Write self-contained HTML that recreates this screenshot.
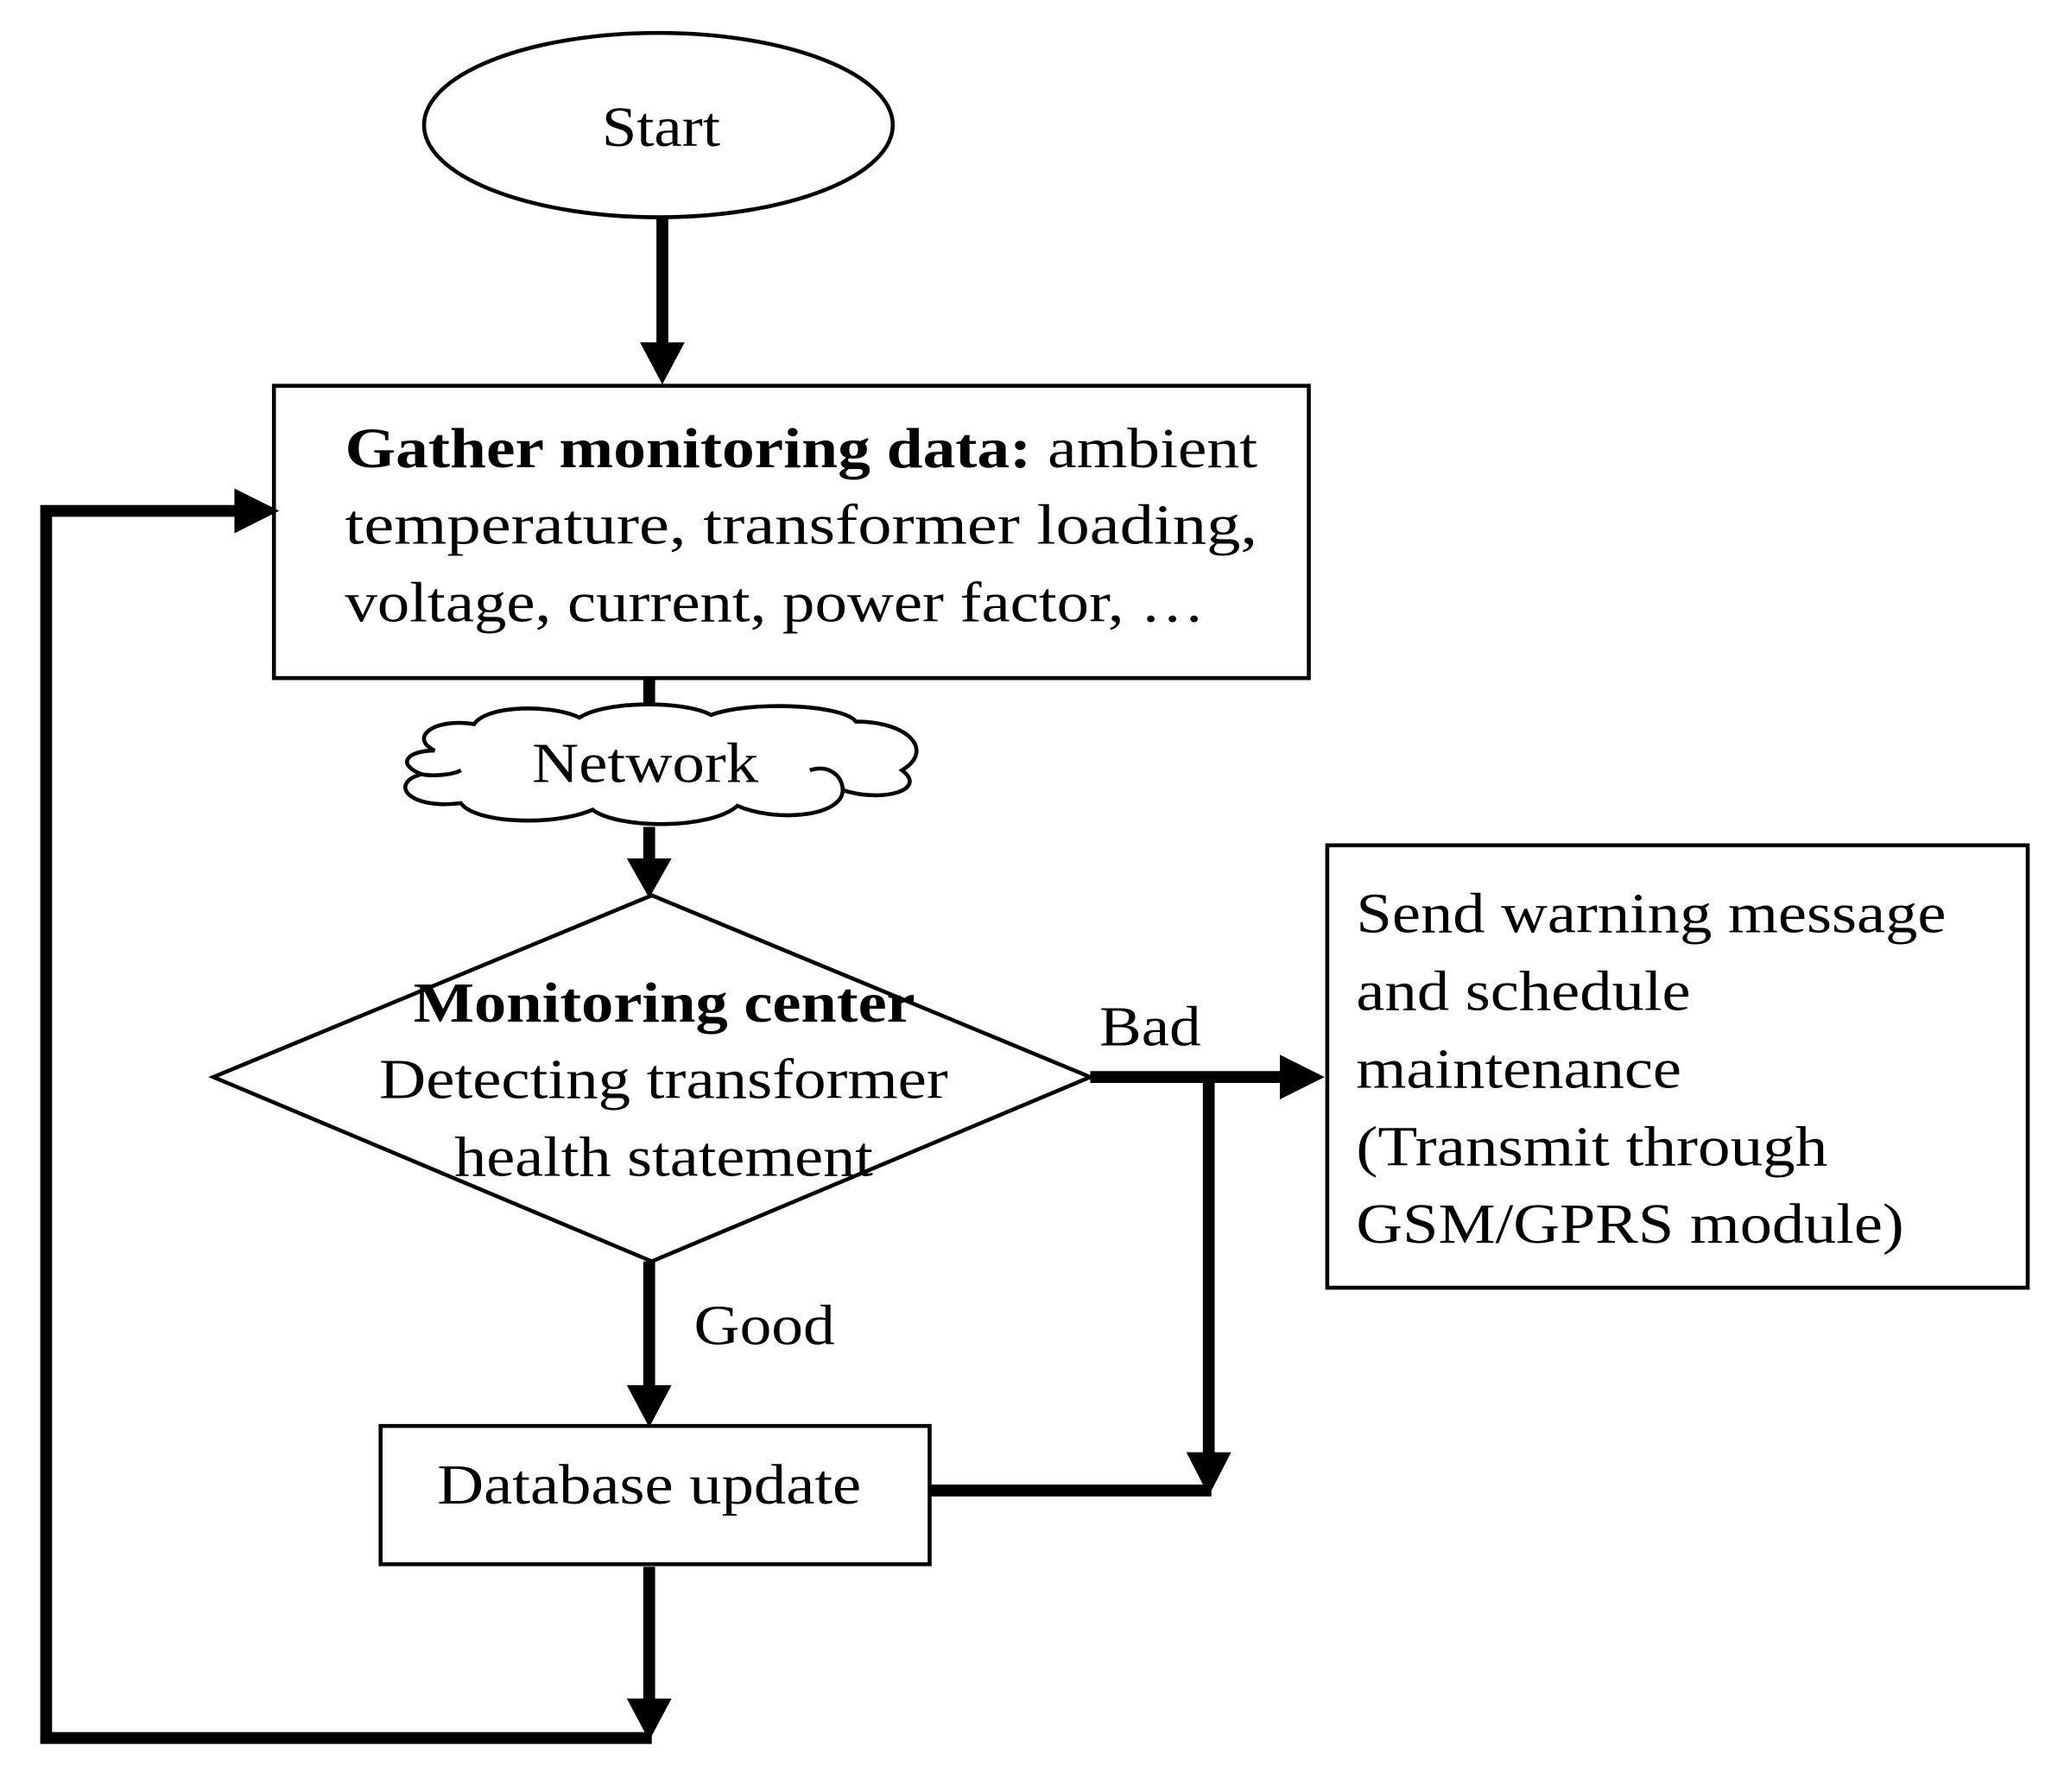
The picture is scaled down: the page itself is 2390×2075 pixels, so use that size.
<!DOCTYPE html>
<html><head><meta charset="utf-8"><style>html,body{margin:0;padding:0;background:#fff}svg{display:block}</style></head>
<body>
<svg width="2390" height="2075" viewBox="0 0 1567.5 1361" xmlns="http://www.w3.org/2000/svg" font-family="'Liberation Serif', serif" fill="#000">
<rect width="1570" height="1362" fill="#fff"/>
<g font-size="43" lengthAdjust="spacingAndGlyphs">
<!-- Start -->
<ellipse cx="500" cy="95" rx="178" ry="70" fill="#fff" stroke="#000" stroke-width="3"/>
<text x="457" y="111" textLength="90" lengthAdjust="spacingAndGlyphs">Start</text>
<line x1="503" y1="165" x2="503" y2="262" stroke="#000" stroke-width="9"/>
<polygon points="486,260 520,260 503,292"/>
<!-- Gather box -->
<rect x="208" y="293" width="786" height="222" fill="#fff" stroke="#000" stroke-width="3"/>
<text x="262" y="355" textLength="693" lengthAdjust="spacingAndGlyphs"><tspan font-weight="bold">Gather monitoring data:</tspan> ambient</text>
<text x="262" y="413" textLength="693" lengthAdjust="spacingAndGlyphs">temperature,  transformer  loading,</text>
<text x="262" y="472" textLength="653" lengthAdjust="spacingAndGlyphs">voltage, current, power factor, …</text>
<!-- line to cloud -->
<line x1="493" y1="515" x2="493" y2="548" stroke="#000" stroke-width="9"/>
<!-- Cloud -->
<path d="M330,570 C310,560 330,545 360,550 C370,535 420,535 440,545 C460,532 520,532 540,543 C570,532 640,535 650,548 C690,548 710,570 685,585 C705,600 670,610 640,600 C640,620 590,625 560,612 C540,630 470,630 450,615 C420,628 360,625 350,610 C310,615 295,595 320,588 C300,580 310,570 330,570 Z" fill="#fff" stroke="#000" stroke-width="3"/>
<path d="M615,585 C630,580 640,590 640,600" fill="none" stroke="#000" stroke-width="3"/>
<path d="M320,588 C330,590 345,588 350,585" fill="none" stroke="#000" stroke-width="3"/>
<text x="404" y="594" textLength="172" lengthAdjust="spacingAndGlyphs">Network</text>
<line x1="493" y1="628" x2="493" y2="655" stroke="#000" stroke-width="9"/>
<polygon points="476,652 510,652 493,682"/>
<!-- Diamond -->
<polygon points="495,680 828,818 495,958 162,818" fill="#fff" stroke="#000" stroke-width="3"/>
<text x="314" y="776" font-weight="bold" textLength="381" lengthAdjust="spacingAndGlyphs">Monitoring center</text>
<text x="288" y="834" textLength="432" lengthAdjust="spacingAndGlyphs">Detecting transformer</text>
<text x="345" y="893" textLength="318" lengthAdjust="spacingAndGlyphs">health statement</text>
<!-- Bad -->
<line x1="828" y1="818" x2="975" y2="818" stroke="#000" stroke-width="9"/>
<polygon points="972,801 1006,818 972,835"/>
<text x="835" y="794" textLength="77" lengthAdjust="spacingAndGlyphs">Bad</text>
<line x1="918" y1="818" x2="918" y2="1108" stroke="#000" stroke-width="9"/>
<polygon points="901,1103 935,1103 918,1136"/>
<line x1="705" y1="1132" x2="920" y2="1132" stroke="#000" stroke-width="9"/>
<!-- Right box -->
<rect x="1008" y="642" width="532" height="336" fill="#fff" stroke="#000" stroke-width="3"/>
<text x="1030" y="708" textLength="448" lengthAdjust="spacingAndGlyphs">Send warning message</text>
<text x="1030" y="767" textLength="254" lengthAdjust="spacingAndGlyphs">and schedule</text>
<text x="1030" y="826" textLength="247" lengthAdjust="spacingAndGlyphs">maintenance</text>
<text x="1030" y="885" textLength="358" lengthAdjust="spacingAndGlyphs">(Transmit through</text>
<text x="1030" y="944" textLength="416" lengthAdjust="spacingAndGlyphs">GSM/GPRS module)</text>
<!-- Good -->
<line x1="493" y1="958" x2="493" y2="1055" stroke="#000" stroke-width="9"/>
<polygon points="476,1052 510,1052 493,1084"/>
<text x="527" y="1021" textLength="107" lengthAdjust="spacingAndGlyphs">Good</text>
<!-- Database -->
<rect x="289" y="1083" width="417" height="105" fill="#fff" stroke="#000" stroke-width="3"/>
<text x="332" y="1142" textLength="322" lengthAdjust="spacingAndGlyphs">Database update</text>
<!-- loop -->
<line x1="493" y1="1190" x2="493" y2="1295" stroke="#000" stroke-width="9"/>
<polygon points="476,1290 510,1290 493,1322"/>
<polyline points="495,1320 35,1320 35,388 185,388" fill="none" stroke="#000" stroke-width="9"/>
<polygon points="178,371 212,388 178,405"/>
</g>
</svg>
</body></html>
